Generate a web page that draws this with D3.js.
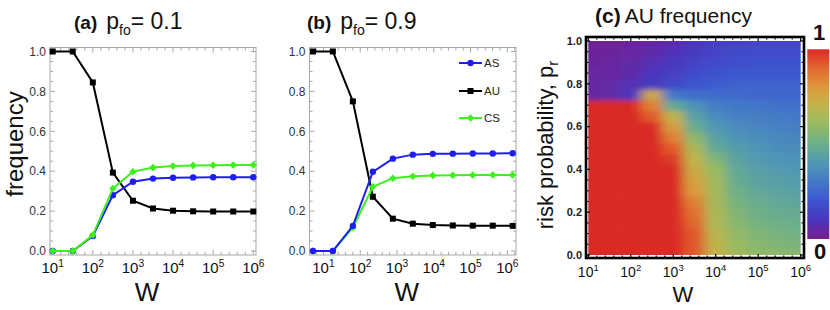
<!DOCTYPE html>
<html>
<head>
<meta charset="utf-8">
<script src="https://cdn.jsdelivr.net/npm/d3@7"></script>
<style>
  body { margin: 0; background: #fff; }
  text { font-family: "Liberation Sans", Arial, sans-serif; }
</style>
</head>
<body>
<svg id="fig" width="830" height="310"></svg>
<script>
// ---- data ----
// (a) p_fo = 0.1
var wA = [10, 31.6, 100, 316, 1000, 3162, 10000, 31623, 100000, 316228, 1000000];
var asA = [0, 0, 0.075, 0.28, 0.347, 0.363, 0.367, 0.369, 0.37, 0.37, 0.37];
var auA = [1, 1, 0.845, 0.393, 0.252, 0.213, 0.202, 0.199, 0.198, 0.198, 0.198];
var csA = [0, 0, 0.08, 0.313, 0.397, 0.418, 0.426, 0.429, 0.43, 0.431, 0.431];

// (b) p_fo = 0.9
var wB = [5.2, 18, 63, 220, 770, 2690, 9400, 32900, 115000, 402000, 1400000];
var asB = [0, 0, 0.126, 0.397, 0.463, 0.483, 0.487, 0.488, 0.489, 0.489, 0.49];
var auB = [1, 1, 0.75, 0.272, 0.162, 0.137, 0.13, 0.128, 0.127, 0.127, 0.126];
var csB = [0, 0, 0.117, 0.322, 0.365, 0.375, 0.379, 0.38, 0.381, 0.381, 0.381];

// (c) AU frequency, rows = risk probability pR, columns = wC
var wC = [10, 31.6, 100, 316, 1000, 3162, 10000, 31623, 100000, 316228, 1000000];
var pR = [0, 0.05, 0.1, 0.15, 0.2, 0.25, 0.3, 0.35, 0.4, 0.45, 0.5,
          0.55, 0.6, 0.65, 0.7, 0.75, 0.8, 0.85, 0.9, 0.95, 1.0];
var auGrid = [
  [1, 1, 1, 1, 1, 0.92, 0.72, 0.63, 0.59, 0.58, 0.57],
  [1, 1, 1, 1, 1, 0.93, 0.70, 0.61, 0.57, 0.55, 0.54],
  [1, 1, 1, 1, 1, 0.93, 0.68, 0.59, 0.55, 0.53, 0.52],
  [1, 1, 1, 1, 1, 0.90, 0.66, 0.57, 0.53, 0.51, 0.50],
  [1, 1, 1, 1, 1, 0.88, 0.65, 0.55, 0.51, 0.49, 0.48],
  [1, 1, 1, 1, 1, 0.85, 0.64, 0.53, 0.49, 0.47, 0.46],
  [1, 1, 1, 1, 1, 0.80, 0.63, 0.51, 0.47, 0.45, 0.44],
  [1, 1, 1, 1, 1, 0.77, 0.62, 0.49, 0.45, 0.43, 0.42],
  [1, 1, 1, 1, 1, 0.73, 0.60, 0.47, 0.43, 0.41, 0.40],
  [1, 1, 1, 1, 0.97, 0.70, 0.55, 0.45, 0.41, 0.39, 0.38],
  [1, 1, 1, 1, 0.92, 0.65, 0.48, 0.42, 0.39, 0.37, 0.36],
  [1, 1, 1, 1, 0.85, 0.58, 0.44, 0.39, 0.37, 0.35, 0.34],
  [1, 1, 1, 1, 0.78, 0.50, 0.40, 0.36, 0.34, 0.33, 0.32],
  [1, 1, 1, 0.92, 0.70, 0.44, 0.36, 0.33, 0.32, 0.31, 0.30],
  [1, 1, 1, 0.85, 0.48, 0.38, 0.32, 0.30, 0.29, 0.28, 0.28],
  [0.04, 0.05, 0.10, 0.75, 0.30, 0.27, 0.26, 0.26, 0.25, 0.25, 0.25],
  [0.04, 0.05, 0.08, 0.12, 0.16, 0.20, 0.22, 0.23, 0.23, 0.23, 0.23],
  [0.04, 0.04, 0.06, 0.10, 0.13, 0.17, 0.19, 0.21, 0.21, 0.21, 0.21],
  [0.03, 0.04, 0.05, 0.08, 0.11, 0.14, 0.17, 0.18, 0.19, 0.19, 0.19],
  [0.03, 0.03, 0.04, 0.06, 0.09, 0.12, 0.15, 0.16, 0.17, 0.17, 0.17],
  [0.02, 0.02, 0.03, 0.04, 0.06, 0.10, 0.13, 0.14, 0.15, 0.15, 0.15]
];

// tick labels
var decades = [1, 2, 3, 4, 5, 6];
var yTicks = [0, 0.2, 0.4, 0.6, 0.8, 1.0];

// rainbow colour ramp
var rampStops = [0, 0.1, 0.2, 0.3, 0.4, 0.5, 0.6, 0.7, 0.8, 0.9, 1.0];
var rampColors = ['#7a1d8c', '#4a35bd', '#3d55d0', '#4378c8', '#5098b4', '#6aae8c',
                  '#95bb62', '#c0b44c', '#dc9a3c', '#e2682e', '#d92b25'];

var colAS = '#1e1ef0', colAU = '#000000', colCS = '#3ef01e';

var svg = d3.select('#fig');
var defs = svg.append('defs');

function minorLogTicks(domain) {
  var lo = Math.log10(domain[0]), hi = Math.log10(domain[1]);
  var out = [];
  for (var k = Math.ceil(lo * 5); k <= Math.floor(hi * 5); k++) {
    out.push({ v: Math.pow(10, k / 5), major: k % 5 === 0 });
  }
  return out;
}

function powLabel(g, x, y, e, size) {
  var t = g.append('text')
    .attr('x', x).attr('y', y)
    .attr('text-anchor', 'middle')
    .attr('font-size', size)
    .attr('fill', '#111');
  t.append('tspan').text('10');
  t.append('tspan').attr('font-size', size * 0.68).attr('dy', -size * 0.42).text(e);
}

function title(x, y, tag, val) {
  var t = svg.append('text').attr('x', x).attr('y', y).attr('fill', '#111');
  t.append('tspan').attr('font-weight', 'bold').attr('font-size', 19).text(tag);
  t.append('tspan').attr('font-size', 23).attr('dx', 9).text('p');
  t.append('tspan').attr('font-size', 14).attr('dy', 6).text('fo');
  t.append('tspan').attr('font-size', 23).attr('dy', -6).text('= ' + val);
}

// ---- line panels ----
function linePanel(opt) {
  var g = svg.append('g');
  var x = d3.scaleLog().domain(opt.xDomain).range([opt.left, opt.right]);
  var y = d3.scaleLinear().domain([0, 1]).range([251, 51.5]);
  var top = 47.5, bottom = 255;

  // frame
  g.append('rect')
    .attr('x', opt.left).attr('y', top)
    .attr('width', opt.right - opt.left).attr('height', bottom - top)
    .attr('fill', 'none').attr('stroke', '#a8a8a8').attr('stroke-width', 1);

  // x ticks on bottom and top
  minorLogTicks(opt.xDomain).forEach(function (t) {
    var len = t.major ? 5 : 3;
    var xp = x(t.v);
    g.append('line').attr('x1', xp).attr('x2', xp).attr('y1', bottom).attr('y2', bottom - len)
      .attr('stroke', '#a8a8a8');
    g.append('line').attr('x1', xp).attr('x2', xp).attr('y1', top).attr('y2', top + len)
      .attr('stroke', '#a8a8a8');
  });
  // y ticks on left and right
  d3.range(0, 21).forEach(function (k) {
    var len = k % 4 === 0 ? 5 : 3;
    var yp = y(k * 0.05);
    g.append('line').attr('x1', opt.left).attr('x2', opt.left + len).attr('y1', yp).attr('y2', yp)
      .attr('stroke', '#a8a8a8');
    g.append('line').attr('x1', opt.right).attr('x2', opt.right - len).attr('y1', yp).attr('y2', yp)
      .attr('stroke', '#a8a8a8');
  });

  // tick labels
  yTicks.forEach(function (v) {
    g.append('text')
      .attr('x', opt.left - 4).attr('y', y(v)).attr('dy', '0.35em')
      .attr('text-anchor', 'end').attr('font-size', 12).attr('fill', '#333')
      .text(v.toFixed(1));
  });
  decades.forEach(function (e) {
    powLabel(g, x(Math.pow(10, e)), 273, e, 15);
  });

  // series
  var series = [
    { vals: opt.au, color: colAU, mark: 'square' },
    { vals: opt.as, color: colAS, mark: 'circle' },
    { vals: opt.cs, color: colCS, mark: 'diamond' }
  ];
  if (opt.order) series = opt.order.map(function (i) { return series[i]; });
  var line = d3.line()
    .x(function (d, i) { return x(opt.w[i]); })
    .y(function (d) { return y(d); });
  series.forEach(function (s) {
    g.append('path').attr('d', line(s.vals))
      .attr('fill', 'none').attr('stroke', s.color).attr('stroke-width', 2);
    s.vals.forEach(function (d, i) {
      drawMark(g, s.mark, x(opt.w[i]), y(d), s.color);
    });
  });

  // W label
  g.append('text')
    .attr('x', (opt.left + opt.right) / 2 - 6).attr('y', 301)
    .attr('text-anchor', 'middle').attr('font-size', 26).attr('fill', '#111')
    .text('W');
  return { g: g, x: x, y: y };
}

function drawMark(g, mark, cx, cy, color) {
  if (mark === 'square') {
    g.append('rect').attr('x', cx - 3).attr('y', cy - 3).attr('width', 6).attr('height', 6)
      .attr('fill', color);
  } else if (mark === 'circle') {
    g.append('circle').attr('cx', cx).attr('cy', cy).attr('r', 3.2).attr('fill', color);
  } else {
    g.append('path')
      .attr('d', 'M' + cx + ',' + (cy - 3.8) + 'L' + (cx + 3.8) + ',' + cy +
                 'L' + cx + ',' + (cy + 3.8) + 'L' + (cx - 3.8) + ',' + cy + 'Z')
      .attr('fill', color);
  }
}

var pa = linePanel({
  left: 50, right: 256,
  xDomain: [Math.pow(10, 0.933), Math.pow(10, 6.067)],
  w: wA, as: asA, au: auA, cs: csA,
  order: [0, 1, 2]
});
var pb = linePanel({
  left: 309.5, right: 516,
  xDomain: [Math.pow(10, 0.62), Math.pow(10, 6.236)],
  w: wB, as: asB, au: auB, cs: csB,
  order: [0, 2, 1]
});

// y label for (a)
svg.append('text')
  .attr('transform', 'translate(23,144) rotate(-90)')
  .attr('text-anchor', 'middle').attr('font-size', 24).attr('fill', '#111')
  .text('frequency');

title(74, 29, '(a)', '0.1');
title(307, 29, '(b)', '0.9');

// legend in (b)
var legend = [
  { name: 'AS', color: colAS, mark: 'circle', y: 63 },
  { name: 'AU', color: colAU, mark: 'square', y: 91 },
  { name: 'CS', color: colCS, mark: 'diamond', y: 118 }
];
legend.forEach(function (d) {
  pb.g.append('line').attr('x1', 459).attr('x2', 482).attr('y1', d.y).attr('y2', d.y)
    .attr('stroke', d.color).attr('stroke-width', 2);
  drawMark(pb.g, d.mark, 470.5, d.y, d.color);
  pb.g.append('text').attr('x', 484).attr('y', d.y).attr('dy', '0.36em')
    .attr('font-size', 11.5).attr('fill', '#222')
    .style('font-family', '"Liberation Sans Narrow", "Liberation Sans", sans-serif')
    .text(d.name);
});

// ---- (c) heat map ----
var color = d3.scaleLinear().domain(rampStops).range(rampColors).interpolate(d3.interpolateRgb);
var hx = d3.scaleLog().domain([10, 1e6]).range([588.3, 800.7]);
var hy = d3.scaleLinear().domain([0, 1]).range([255, 41]);

defs.append('clipPath').attr('id', 'hclip')
  .append('rect').attr('x', hx(10)).attr('y', hy(1))
  .attr('width', hx(1e6) - hx(10)).attr('height', hy(0) - hy(1));
var blur = defs.append('filter').attr('id', 'smooth')
  .attr('x', '-5%').attr('y', '-5%').attr('width', '110%').attr('height', '110%');
blur.append('feGaussianBlur').attr('stdDeviation', '6 2.4');

function cellEdges(centers, pad) {
  var e = [centers[0] - pad];
  for (var i = 1; i < centers.length; i++) e.push((centers[i - 1] + centers[i]) / 2);
  e.push(centers[centers.length - 1] + pad);
  return e;
}
var ex = cellEdges(wC.map(function (w) { return hx(w); }), 25);
var ey = cellEdges(pR.map(function (p) { return hy(p); }), -25);

var hm = svg.append('g').attr('clip-path', 'url(#hclip)')
  .append('g').attr('filter', 'url(#smooth)');
auGrid.forEach(function (row, j) {
  row.forEach(function (v, i) {
    var y0 = Math.min(ey[j], ey[j + 1]), y1 = Math.max(ey[j], ey[j + 1]);
    hm.append('rect')
      .attr('x', ex[i]).attr('y', y0)
      .attr('width', ex[i + 1] - ex[i] + 0.6).attr('height', y1 - y0 + 0.6)
      .attr('fill', color(v));
  });
});

// frame of (c)
var fL = 586, fR = 804, fT = 37, fB = 258;
svg.append('rect').attr('x', fL).attr('y', fT).attr('width', fR - fL).attr('height', fB - fT)
  .attr('fill', 'none').attr('stroke', '#000').attr('stroke-width', 2.6);
minorLogTicks([10, 1e6]).forEach(function (t) {
  var len = t.major ? 4 : 2.5;
  var xp = hx(t.v);
  svg.append('line').attr('x1', xp).attr('x2', xp).attr('y1', fB).attr('y2', fB - len)
    .attr('stroke', '#000').attr('stroke-width', 1.2);
  svg.append('line').attr('x1', xp).attr('x2', xp).attr('y1', fT).attr('y2', fT + len)
    .attr('stroke', '#000').attr('stroke-width', 1.2);
});
d3.range(0, 21).forEach(function (k) {
  var len = k % 4 === 0 ? 4 : 2.5;
  var yp = hy(k * 0.05);
  svg.append('line').attr('x1', fL).attr('x2', fL + len).attr('y1', yp).attr('y2', yp)
    .attr('stroke', '#000').attr('stroke-width', 1.2);
  svg.append('line').attr('x1', fR).attr('x2', fR - len).attr('y1', yp).attr('y2', yp)
    .attr('stroke', '#000').attr('stroke-width', 1.2);
});
yTicks.forEach(function (v) {
  svg.append('text')
    .attr('x', 582).attr('y', hy(v)).attr('dy', '0.35em')
    .attr('text-anchor', 'end').attr('font-size', 11).attr('font-weight', 'bold')
    .attr('fill', '#222').text(v.toFixed(1));
});
decades.forEach(function (e) {
  powLabel(svg, hx(Math.pow(10, e)), 277, e, 14);
});
svg.append('text').attr('x', 683).attr('y', 302).attr('text-anchor', 'middle')
  .attr('font-size', 22).attr('fill', '#111').text('W');

// y label for (c)
var yl = svg.append('text')
  .attr('transform', 'translate(553,145) rotate(-90)')
  .attr('text-anchor', 'middle').attr('font-size', 22).attr('fill', '#111');
yl.append('tspan').text('risk probability,  p');
yl.append('tspan').attr('font-size', 15).attr('dy', 5).text('r');

// title (c)
var tc = svg.append('text').attr('x', 595).attr('y', 23).attr('font-size', 21).attr('fill', '#111');
tc.append('tspan').attr('font-weight', 'bold').text('(c)');
tc.append('tspan').attr('dx', 4).text('AU frequency');

// colour bar
var grad = defs.append('linearGradient').attr('id', 'cbar')
  .attr('x1', 0).attr('y1', 1).attr('x2', 0).attr('y2', 0);
rampStops.forEach(function (s, i) {
  grad.append('stop').attr('offset', s).attr('stop-color', rampColors[i]);
});
var cb = d3.scaleLinear().domain([0, 1]).range([239, 49.3]);
svg.append('rect').attr('x', 807.3).attr('y', cb(1))
  .attr('width', 22).attr('height', cb(0) - cb(1)).attr('fill', 'url(#cbar)');
svg.append('text').attr('x', 819).attr('y', 40).attr('text-anchor', 'middle')
  .attr('font-size', 22).attr('font-weight', 'bold').attr('fill', '#111').text('1');
svg.append('text').attr('x', 820).attr('y', 259).attr('text-anchor', 'middle')
  .attr('font-size', 22).attr('font-weight', 'bold').attr('fill', '#111').text('0');
</script>
</body>
</html>
